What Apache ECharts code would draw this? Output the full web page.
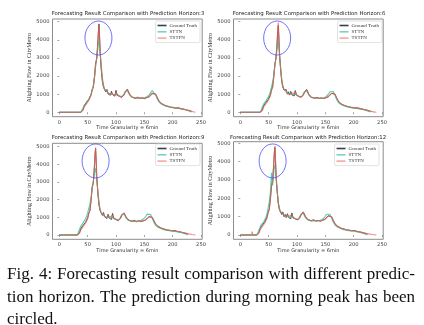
<!DOCTYPE html>
<html>
<head>
<meta charset="utf-8">
<script src="https://cdn.jsdelivr.net/npm/echarts@6/dist/echarts.min.js"></script>
<style>
  html, body { margin: 0; padding: 0; background: #fff; }
  #chart { width: 424px; height: 325px; }
</style>
</head>
<body>
<div id="chart"></div>
<script>
// ---- tick labels ----
const X_TICKS = [0, 50, 100, 150, 200, 250];
const Y_TICKS = [0, 1000, 2000, 3000, 4000, 5000];
const SERIES_NAMES = ['Ground Truth', 'STTN', 'TSTFN'];
const HORIZONS = [3, 6, 9, 12];

// ---- horizon 3 ----
const X3 = [0, 38, 40, 42, 44, 46, 48, 50, 52, 54, 56, 58, 60, 62, 64, 66, 68, 69, 70, 71,
  72, 74, 76, 78, 80, 82, 84, 86, 88, 90, 92, 94, 96, 98, 100, 102, 104, 106, 108, 110,
  112, 114, 116, 118, 120, 122, 124, 126, 128, 130, 134, 138, 142, 146, 150, 154, 158, 161, 164, 167,
  170, 173, 176, 180, 184, 188, 192, 196, 200, 205, 210, 215, 220, 225, 228, 230, 233, 236, 240];
const GT3 = [0, 0, 0, 150, 380, 300, 560, 470, 720, 680,
  980, 1260, 1380, 1950, 2700, 2950, 3900, 4500, 4880, 4150,
  3300, 2350, 1700, 1380, 1240, 1120, 1260, 1010, 1120, 940,
  1160, 970, 1060, 890, 1210, 940, 1030, 880, 960, 820,
  870, 960, 1110, 1190, 1270, 1140, 990, 900, 840, 810,
  770, 830, 760, 800, 750, 810, 850, 940, 1060, 1150,
  990, 790, 610, 480, 420, 350, 330, 280, 270, 230,
  250, 190, 170, 120, 160, 90, 50, null, null];
const STTN3 = [0, 0, 60, 250, 330, 420, 520, 600, 700, 820,
  1000, 1250, 1500, 1900, 2500, 3000, 3500, 3800, 3980, 3750,
  3300, 2600, 1900, 1500, 1300, 1180, 1150, 1080, 1050, 1000,
  1050, 1000, 980, 950, 1000, 980, 950, 900, 880, 860,
  900, 1000, 1150, 1230, 1200, 1080, 950, 880, 830, 800,
  780, 790, 770, 780, 790, 850, 950, 1080, 1200, 1170,
  950, 720, 560, 450, 390, 340, 300, 270, 250, 230,
  210, 180, 150, 110, 80, 50, 20, null, null];
const TSTFN3 = [0, 0, 20, 120, 300, 350, 480, 520, 650, 720,
  920, 1200, 1400, 1900, 2600, 3000, 3850, 4450, 4850, 4200,
  3400, 2400, 1750, 1400, 1250, 1150, 1180, 1050, 1080, 980,
  1080, 1000, 1020, 930, 1120, 980, 1000, 900, 920, 850,
  880, 950, 1080, 1180, 1240, 1150, 1000, 910, 850, 820,
  790, 810, 780, 790, 770, 800, 840, 920, 1030, 1120,
  1000, 800, 620, 490, 420, 360, 320, 290, 270, 240,
  230, 200, 170, 130, 120, 90, 60, 30, 0];

// ---- horizon 6 ----
const X6 = [0, 35, 37, 39, 41, 43, 45, 47, 49, 51, 53, 55, 57, 59, 61, 63, 65, 66, 67, 68,
  69, 71, 73, 75, 77, 79, 81, 83, 85, 87, 89, 91, 93, 95, 97, 99, 101, 103, 105, 107,
  109, 111, 113, 115, 117, 119, 121, 123, 125, 127, 131, 135, 139, 143, 147, 151, 155, 158, 161, 164,
  167, 170, 173, 177, 181, 185, 189, 193, 197, 202, 207, 212, 217, 222, 225, 227, 230, 235, 240];
const GT6 = [0, 0, 0, 140, 360, 310, 540, 480, 700, 690,
  960, 1250, 1400, 1980, 2680, 2980, 3880, 4450, 4800, 4100,
  3250, 2400, 1720, 1390, 1230, 1130, 1250, 1000, 1130, 950,
  1150, 960, 1070, 900, 1200, 950, 1020, 870, 950, 830,
  860, 950, 1100, 1200, 1260, 1130, 980, 890, 830, 800,
  780, 820, 770, 790, 760, 800, 860, 950, 1050, 1140,
  1000, 780, 600, 470, 410, 360, 320, 290, 260, 240,
  240, 200, 160, 130, 150, 80, 40, null, null];
const STTN6 = [0, 0, 80, 300, 450, 550, 620, 700, 820, 950,
  1150, 1400, 1650, 2050, 2600, 3050, 3500, 3750, 3870, 3650,
  3200, 2500, 1850, 1480, 1280, 1180, 1120, 1060, 1030, 1000,
  1020, 980, 970, 940, 990, 960, 930, 880, 860, 850,
  880, 980, 1130, 1220, 1180, 1060, 940, 870, 820, 790,
  770, 780, 760, 770, 790, 860, 980, 1130, 1220, 1150,
  920, 700, 540, 440, 380, 330, 290, 260, 240, 220,
  200, 170, 140, 100, 70, 40, 10, null, null];
const TSTFN6 = [0, 0, 10, 100, 280, 340, 460, 510, 640, 710,
  900, 1180, 1380, 1900, 2600, 3050, 3950, 4550, 4950, 4250,
  3400, 2450, 1780, 1420, 1260, 1150, 1190, 1040, 1090, 970,
  1090, 990, 1030, 920, 1130, 970, 1000, 890, 910, 840,
  870, 940, 1070, 1170, 1230, 1140, 990, 900, 840, 810,
  780, 800, 770, 790, 770, 800, 850, 930, 1040, 1130,
  1000, 800, 620, 490, 420, 360, 320, 290, 270, 240,
  230, 200, 170, 130, 110, 80, 50, 20, 0];

// ---- horizon 9 ----
const X9 = [0, 32, 34, 36, 38, 40, 42, 44, 46, 48, 50, 52, 54, 56, 58, 60, 62, 63, 64, 65,
  66, 68, 70, 72, 74, 76, 78, 80, 82, 84, 86, 88, 90, 92, 94, 96, 98, 100, 102, 104,
  106, 108, 110, 112, 114, 116, 118, 120, 122, 124, 128, 132, 136, 140, 144, 148, 152, 155, 158, 161,
  164, 167, 170, 174, 178, 182, 186, 190, 194, 199, 204, 209, 214, 219, 222, 224, 227, 234, 240];
const GT9 = [0, 0, 0, 160, 370, 290, 550, 460, 710, 670,
  970, 1240, 1370, 1960, 2720, 2940, 3920, 4520, 4900, 4170,
  3320, 2360, 1690, 1370, 1250, 1110, 1270, 1020, 1110, 930,
  1170, 960, 1050, 880, 1220, 930, 1040, 870, 970, 810,
  880, 950, 1120, 1180, 1250, 1150, 1000, 890, 850, 800,
  770, 840, 750, 810, 760, 800, 840, 930, 1040, 1120,
  990, 790, 610, 480, 420, 350, 330, 280, 270, 230,
  250, 190, 170, 120, 160, 90, 50, null, null];
const STTN9 = [0, 0, 100, 350, 500, 600, 700, 800, 900, 1050,
  1250, 1500, 1750, 2150, 2650, 3050, 3450, 3650, 3770, 3550,
  3150, 2500, 1850, 1450, 1250, 1150, 1100, 1050, 1020, 990,
  1010, 970, 960, 930, 980, 950, 920, 880, 860, 840,
  880, 990, 1150, 1240, 1200, 1070, 950, 870, 820, 790,
  770, 780, 770, 790, 820, 900, 1030, 1180, 1250, 1160,
  930, 700, 540, 440, 380, 330, 290, 260, 240, 220,
  200, 170, 140, 100, 70, 40, 10, null, null];
const TSTFN9 = [0, 0, 10, 110, 290, 340, 470, 520, 650, 710,
  910, 1190, 1390, 1920, 2650, 3000, 3950, 4600, 4950, 4250,
  3350, 2400, 1750, 1400, 1250, 1150, 1190, 1050, 1090, 970,
  1090, 990, 1020, 920, 1130, 970, 1010, 890, 920, 840,
  880, 950, 1080, 1180, 1240, 1150, 1000, 910, 850, 820,
  790, 810, 780, 790, 770, 800, 840, 920, 1030, 1120,
  1000, 800, 620, 490, 420, 360, 320, 290, 270, 240,
  230, 200, 170, 130, 120, 90, 60, 30, 0];

// ---- horizon 12 ----
const X12 = [0, 20, 21, 22, 29, 31, 33, 35, 37, 39, 41, 43, 45, 47, 49, 51, 53, 55, 57, 59,
  60, 61, 62, 63, 65, 67, 69, 71, 73, 75, 77, 79, 81, 83, 85, 87, 89, 91, 93, 95,
  97, 99, 101, 103, 105, 107, 109, 111, 113, 115, 117, 119, 121, 125, 129, 133, 137, 141, 145, 149,
  152, 155, 158, 161, 164, 167, 171, 175, 179, 183, 187, 191, 196, 201, 206, 211, 216, 219, 221, 224,
  233, 240];
const GT12 = [0, 0, 0, 0,
  0, 0, 150, 370, 310, 550, 480, 700, 690, 970,
  1250, 1390, 1960, 2690, 2960, 3880, 4460, 4780, 4120, 3280,
  2380, 1710, 1380, 1240, 1120, 1260, 1000, 1120, 950, 1160,
  960, 1060, 890, 1200, 940, 1030, 880, 960, 820, 870,
  950, 1100, 1190, 1260, 1140, 990, 900, 840, 810, 770,
  830, 760, 800, 750, 810, 850, 940, 1050, 1140, 990,
  790, 610, 480, 420, 350, 330, 280, 270, 230, 250,
  190, 170, 120, 160, 90, 50, null, null];
const STTN12 = [0, 0, 0, 0,
  0, 60, 280, 420, 560, 650, 700, 800, 950, 1150,
  1450, 1800, 2300, 3400, 2700, 3400, 3800, 3900, 3600, 3100,
  2400, 1800, 1450, 1270, 1170, 1120, 1060, 1030, 1000, 1020,
  980, 960, 940, 990, 960, 930, 880, 860, 850, 880,
  980, 1130, 1220, 1180, 1060, 940, 870, 820, 790, 770,
  780, 760, 770, 790, 860, 980, 1130, 1200, 1130, 920,
  700, 540, 440, 380, 330, 290, 260, 240, 220, 200,
  170, 140, 100, 70, 40, 10, null, null];
const TSTFN12 = [0, 0, 180, 0,
  0, 10, 100, 280, 340, 460, 510, 640, 710, 900,
  1180, 1380, 1900, 2620, 3000, 3900, 4500, 4850, 4200, 3350,
  2400, 1750, 1400, 1250, 1150, 1180, 1050, 1090, 970, 1090,
  990, 1020, 920, 1120, 970, 1000, 890, 920, 840, 880,
  950, 1080, 1180, 1240, 1150, 1000, 910, 850, 820, 790,
  810, 780, 790, 770, 800, 840, 920, 1030, 1120, 1000,
  800, 620, 490, 420, 360, 320, 290, 270, 240, 230,
  200, 170, 130, 120, 90, 60, 30, 0];

// circled morning peak, centre of each ring in data units
const PEAK_RINGS = [[69, 4100], [65, 4100], [64, 4190], [57, 4040]];

const CAPTION_LINES = [
  'Fig. 4: Forecasting result comparison with different predic-',
  'tion horizon. The prediction during morning peak has been',
  'circled.'
];

// ---- layout ----
const PANEL_DATA = [
  { x: X3, series: [GT3, STTN3, TSTFN3] },
  { x: X6, series: [GT6, STTN6, TSTFN6] },
  { x: X9, series: [GT9, STTN9, TSTFN9] },
  { x: X12, series: [GT12, STTN12, TSTFN12] }
];
const LAYOUT = [
  { grid: { left: 52.5, top: 19, width: 149.7, height: 97.7 }, y: [-245, 5150], titleX: 128, titleY: 11.5, legendRight: 224, legendTop: 21 },
  { grid: { left: 233.5, top: 19, width: 149.7, height: 97.7 }, y: [-245, 5150], titleX: 309, titleY: 11.5, legendRight: 42, legendTop: 21 },
  { grid: { left: 52.5, top: 143.3, width: 149.7, height: 96 }, y: [-245, 5190], titleX: 128, titleY: 135.5, legendRight: 224, legendTop: 144 },
  { grid: { left: 233.5, top: 141.7, width: 149.7, height: 97.6 }, y: [-235, 5090], titleX: 308, titleY: 135.5, legendRight: 45, legendTop: 144 }
];
const LINE_STYLES = [
  { color: '#34404f', width: 0.9, opacity: 1, legend: '#34404f' },
  { color: '#2fbf9b', width: 1.1, opacity: 0.8, legend: 'rgba(47,191,155,0.65)' },
  { color: '#f0604e', width: 1.1, opacity: 0.75, legend: 'rgba(240,96,78,0.55)' }
];
const SANS = 'DejaVu Sans';
const SERIF = 'Liberation Serif';
const RING_RX = 13.5, RING_RY = 17;
const CAPTION_SIZE = 17, CAPTION_LEFT = 7, CAPTION_RIGHT = 415;
const CAPTION_BASELINES = [279, 301.5, 323.5];

const chart = echarts.init(document.getElementById('chart'), null, { renderer: 'canvas' });

const grids = [], xAxes = [], yAxes = [], titles = [], legends = [], series = [];
LAYOUT.forEach((L, i) => {
  grids.push(Object.assign({ show: true, borderColor: '#8c8c8c', borderWidth: 1, backgroundColor: 'transparent' }, L.grid));
  xAxes.push({
    type: 'value', gridIndex: i, min: -12, max: 252,
    splitLine: { show: false }, axisLine: { show: false },
    axisTick: { show: true, length: 2, customValues: X_TICKS, lineStyle: { color: '#666', width: 0.6 } },
    axisLabel: { customValues: X_TICKS, fontSize: 5.2, fontFamily: SANS, color: '#444', margin: 3, formatter: v => String(v) },
    name: 'Time Granularity = 6min', nameLocation: 'middle', nameGap: 9,
    nameTextStyle: { fontSize: 5, fontFamily: SANS, color: '#333' }
  });
  yAxes.push({
    type: 'value', gridIndex: i, min: L.y[0], max: L.y[1],
    splitLine: { show: false }, axisLine: { show: false },
    axisTick: { show: true, length: 2, customValues: Y_TICKS, lineStyle: { color: '#666', width: 0.6 } },
    axisLabel: { customValues: Y_TICKS, fontSize: 5.2, fontFamily: SANS, color: '#444', margin: 3, formatter: v => String(v) },
    name: 'Alighting Flow in CityMetro', nameLocation: 'middle', nameGap: 17.5, nameRotate: 90,
    nameTextStyle: { fontSize: 6, fontFamily: SERIF, color: '#333' }
  });
  titles.push({
    text: 'Forecasting Result Comparison with Prediction Horizon:' + HORIZONS[i],
    left: L.titleX, top: L.titleY, textAlign: 'center', padding: 0,
    textStyle: { fontSize: 5.4, fontFamily: SANS, fontWeight: 'normal', color: '#222' }
  });
  legends.push({
    data: SERIES_NAMES, orient: 'vertical', right: L.legendRight, top: L.legendTop,
    icon: 'rect', itemWidth: 9, itemHeight: 1.6, itemGap: 1.3, selectedMode: false,
    padding: [2, 3, 2, 2], borderColor: '#cfcfcf', borderWidth: 0.6, borderRadius: 1.5,
    backgroundColor: '#fff',
    textStyle: { fontSize: 5, fontFamily: SERIF, color: '#333', padding: [0, 0, 0, -2] }
  });
  const P = PANEL_DATA[i];
  P.series.forEach((vals, k) => {
    const pts = [];
    P.x.forEach((xv, j) => { if (vals[j] !== null) pts.push([xv, vals[j]]); });
    const S = LINE_STYLES[k];
    series.push({
      type: 'line', name: SERIES_NAMES[k], xAxisIndex: i, yAxisIndex: i,
      data: pts, showSymbol: false, symbol: 'none', animation: false, z: 2 + k,
      lineStyle: { color: S.color, width: S.width, opacity: S.opacity },
      itemStyle: { color: S.legend }
    });
  });
});

chart.setOption({
  backgroundColor: '#fff',
  animation: false,
  title: titles, grid: grids, xAxis: xAxes, yAxis: yAxes, legend: legends, series: series
});

// rings round the morning peak and the justified caption
const extras = [];
PEAK_RINGS.forEach((c, i) => {
  const p = chart.convertToPixel({ gridIndex: i }, c);
  extras.push({
    type: 'ellipse', shape: { cx: p[0], cy: p[1], rx: RING_RX, ry: RING_RY },
    style: { fill: 'none', stroke: '#4d4dff', lineWidth: 0.8 }, z: 100
  });
});

const measure = document.createElement('canvas').getContext('2d');
measure.font = CAPTION_SIZE + 'px "' + SERIF + '"';
CAPTION_LINES.forEach((line, li) => {
  const words = line.split(' ');
  const widths = words.map(w => measure.measureText(w).width);
  const total = widths.reduce((a, b) => a + b, 0);
  const justify = li < CAPTION_LINES.length - 1;
  const gap = justify ? (CAPTION_RIGHT - CAPTION_LEFT - total) / (words.length - 1) : measure.measureText(' ').width;
  let x = CAPTION_LEFT;
  words.forEach((w, k) => {
    extras.push({
      type: 'text', x: x, y: CAPTION_BASELINES[li] + 0.24 * CAPTION_SIZE,
      style: { text: w, fontSize: CAPTION_SIZE, fontFamily: SERIF, fill: '#111', verticalAlign: 'bottom' }
    });
    x += widths[k] + gap;
  });
});

chart.setOption({ graphic: extras });
</script>
</body>
</html>
